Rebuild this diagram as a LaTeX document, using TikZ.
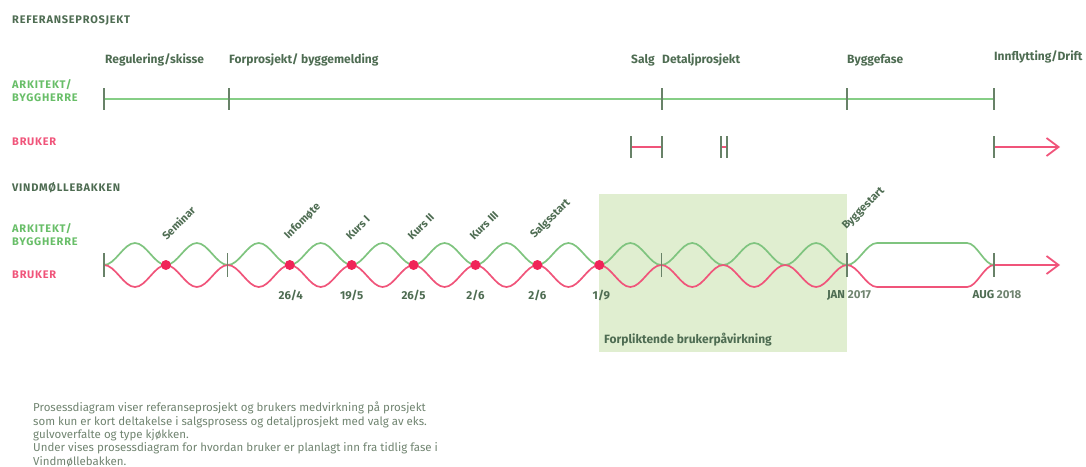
\documentclass[tikz,border=0pt]{standalone}
\usepackage{fontspec}
\setmainfont{Fira Sans}
\usetikzlibrary{arrows.meta,positioning,calc}
\definecolor{txtgreen}{RGB}{78,108,82}
\definecolor{arkgreen}{RGB}{104,190,104}
\definecolor{linegreen}{RGB}{134,206,134}
\definecolor{brukpink}{RGB}{240,84,122}
\definecolor{dotred}{RGB}{240,36,88}
\definecolor{shadegreen}{RGB}{224,238,208}
\definecolor{tickgray}{RGB}{104,130,104}
\definecolor{notegray}{RGB}{112,132,112}
\tikzset{
  hdlbl/.style={anchor=west, inner sep=0pt, text=txtgreen, font=\bfseries\fontsize{11}{12}\selectfont\addfontfeature{LetterSpace=7}},
  rolelbl/.style={anchor=west, inner sep=0pt, align=left, font=\bfseries\fontsize{11}{13}\selectfont\addfontfeature{LetterSpace=7}},
  phaselbl/.style={anchor=west, inner sep=0pt, text=txtgreen, font=\bfseries\fontsize{12}{13}\selectfont},
  evlbl/.style={anchor=south west, inner sep=0pt, rotate=45, text=txtgreen, font=\bfseries\fontsize{11}{12}\selectfont},
  datelbl/.style={inner sep=0pt, text=txtgreen, font=\bfseries\fontsize{11.5}{12}\selectfont},
  tickmark/.style={draw=tickgray, line width=1.3pt},
  greenline/.style={draw=linegreen, line width=2.6pt},
  pinkline/.style={draw=brukpink, line width=1.8pt},
  waveg/.style={draw=linegreen!95!black, line width=1.7pt},
  wavep/.style={draw=brukpink, line width=1.7pt},
  meetdot/.style={circle, fill=dotred, minimum size=10pt, inner sep=0pt},
  notelbl/.style={anchor=north west, inner sep=0pt, align=left, text=notegray, font=\fontsize{11.5}{13.3}\selectfont}
}
\begin{document}
\begin{tikzpicture}[x=1pt, y=-1pt]
\useasboundingbox (0,0) rectangle (1086,466);
\node[hdlbl] (ref) at (12,21) {REFERANSEPROSJEKT};
\node[rolelbl, text=arkgreen] (ark1) at (12,90.5) {ARKITEKT/\\BYGGHERRE};
\node[rolelbl, text=brukpink] (bru1) at (12,142) {BRUKER};
\coordinate (t1) at (104,99);
\coordinate (t2) at (229,99);
\coordinate (t3) at (662,99);
\coordinate (t4) at (847,99);
\coordinate (t5) at (994,99);
\node[phaselbl] (p1) at (105,60) {Regulering/skisse};
\node[phaselbl] (p2) at (229,60) {Forprosjekt/ byggemelding};
\node[phaselbl] (p3) at (631,60) {Salg};
\node[phaselbl] (p4) at (662,60) {Detaljprosjekt};
\node[phaselbl] (p5) at (847,60) {Byggefase};
\node[phaselbl] (p6) at (994,57) {Innflytting/Drift};
\draw[greenline] (t1) -- (t5);
\foreach \t in {t1,t2,t3,t4,t5}
  \draw[tickmark] (\t) +(0,-11) -- +(0,11);
\coordinate (b1) at (631,147);
\coordinate (b2) at (662,147);
\coordinate (b3) at (721,147);
\coordinate (b4) at (727,147);
\coordinate (b5) at (994,147);
\coordinate (b6) at (1060,147);
\draw[pinkline] (b1) -- (b2);
\draw[pinkline] (b3) -- (b4);
\draw[pinkline, -{Straight Barb[length=12pt, width=18pt]}] (b5) -- (b6);
\foreach \b in {b1,b2,b3,b4,b5}
  \draw[tickmark] (\b) +(0,-11) -- +(0,11);

\node[hdlbl] (vind) at (12,188) {VINDMØLLEBAKKEN};
\node[rolelbl, text=arkgreen] (ark2) at (12,234.5) {ARKITEKT/\\BYGGHERRE};
\node[rolelbl, text=brukpink] (bru2) at (12,275) {BRUKER};
\foreach \i in {0,...,12}
  \coordinate (m\i) at (104+61.917*\i,265);
\coordinate (e) at (994,265);
\coordinate (ee) at (1060,265);
\fill[shadegreen] (599,194) rectangle (847,352);
\node[phaselbl] (forp) at (604,340) {Forpliktende brukerpåvirkning};
\draw[waveg] (m0) \foreach \i in {0,...,11}{ cos ++(15.48,-11) sin ++(15.48,-11) cos ++(15.48,11) sin ++(15.48,11) }
  cos ++(15,-11) sin ++(15,-11) -- ++(90,0) cos ++(13.5,11) sin ++(13.5,11);
\draw[wavep] (m0) \foreach \i in {0,...,11}{ cos ++(15.48,11) sin ++(15.48,11) cos ++(15.48,-11) sin ++(15.48,-11) }
  cos ++(15,11) sin ++(15,11) -- ++(90,0) cos ++(13.5,-11) sin ++(13.5,-11);
\draw[pinkline, -{Straight Barb[length=12pt, width=18pt]}] (e) -- (ee);
\foreach \m in {m0,m2,m9,m12,e}
  \draw[tickmark] (\m) +(0,-12) -- +(0,12);
\foreach \i in {1,3,4,5,6,7,8}
  \node[meetdot] (d\i) at (m\i) {};
\node[evlbl] (seminar) at ($(m1)+(1,-24)$) {Seminar};
\node[evlbl] (info) at ($(m3)+(0,-24)$) {Infomøte};
\node[evlbl] (kurs1) at ($(m4)+(-1,-24)$) {Kurs I};
\node[evlbl] (kurs2) at ($(m5)+(-1,-24)$) {Kurs II};
\node[evlbl] (kurs3) at ($(m6)+(-1,-24)$) {Kurs III};
\node[evlbl] (salgs) at ($(m7)+(-1,-24)$) {Salgsstart};
\node[evlbl] (bygg) at ($(m12)+(1,-33)$) {Byggestart};
\node[datelbl] (dt3) at ($(m3)+(1,30)$) {26/4};
\node[datelbl] (dt4) at ($(m4)+(0,30)$) {19/5};
\node[datelbl] (dt5) at ($(m5)+(0,30)$) {26/5};
\node[datelbl] (dt6) at ($(m6)+(0,30)$) {2/6};
\node[datelbl] (dt7) at ($(m7)+(0,30)$) {2/6};
\node[datelbl] (dt8) at ($(m8)+(2,30)$) {1/9};
\node[datelbl] (jan) at ($(m12)+(2,30)$) {JAN {\color{notegray}2017}};
\node[datelbl] (aug) at ($(e)+(3,30)$) {AUG {\color{notegray}2018}};

\node[notelbl] (note) at (33,402) {Prosessdiagram viser referanseprosjekt og brukers medvirkning på prosjekt\\
som kun er kort deltakelse i salgsprosess og detaljprosjekt med valg av eks.\\
gulvoverfalte og type kjøkken.\\
Under vises prosessdiagram for hvordan bruker er planlagt inn fra tidlig fase i\\
Vindmøllebakken.};
\end{tikzpicture}
\end{document}
